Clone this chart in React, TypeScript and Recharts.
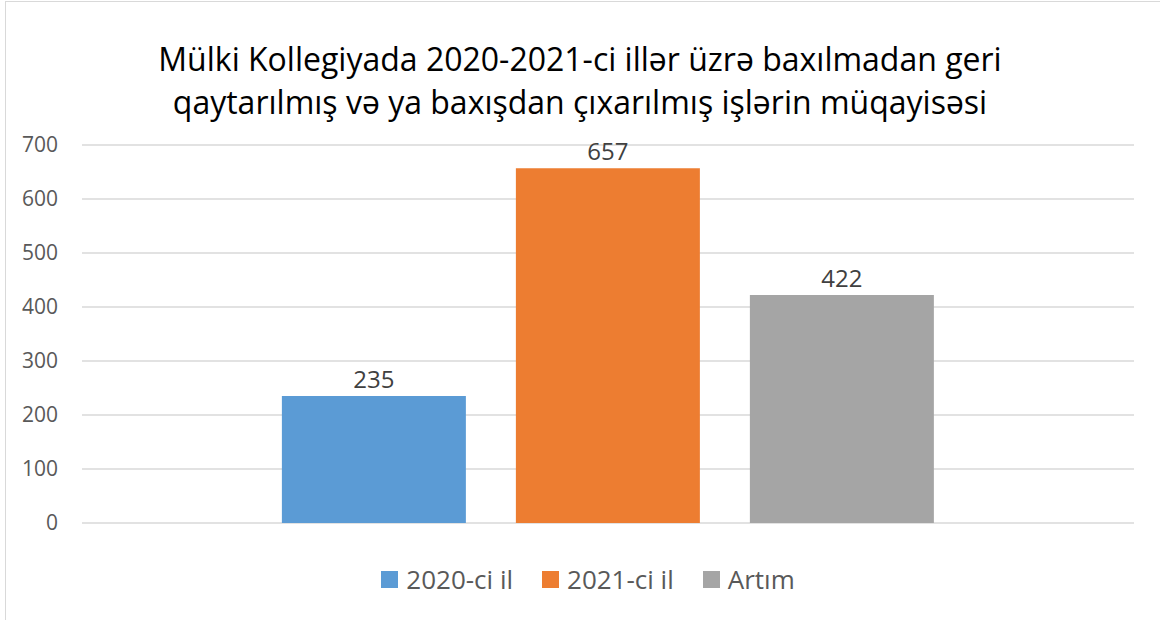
import { Bar, BarChart, CartesianGrid, LabelList, Legend, XAxis, YAxis } from "recharts";

const categories = ["Müqayisə"];
const series2020 = [235];
const series2021 = [657];
const seriesArtim = [422];
const yTicks = [0, 100, 200, 300, 400, 500, 600, 700];
const seriesNames = ["2020-ci il", "2021-ci il", "Artım"];
const seriesColors = ["#5B9BD5", "#ED7D31", "#A5A5A5"];
const titleLines = [
  "Mülki Kollegiyada 2020-2021-ci illər üzrə baxılmadan geri",
  "qaytarılmış və ya baxışdan çıxarılmış işlərin müqayisəsi",
];

const data = categories.map((name, i) => ({
  name,
  s0: series2020[i],
  s1: series2021[i],
  s2: seriesArtim[i],
}));

const FONT = "'Open Sans', 'Noto Sans', sans-serif";

function LegendContent() {
  return (
    <div
      style={{
        display: "flex",
        justifyContent: "center",
        gap: 29,
        fontFamily: FONT,
        fontSize: 26,
        lineHeight: "30px",
        color: "#595959",
      }}
    >
      {seriesNames.map((n, i) => (
        <div key={n} style={{ display: "flex", alignItems: "center" }}>
          <span
            style={{
              width: 17,
              height: 17,
              background: seriesColors[i],
              marginRight: 8,
              display: "inline-block",
            }}
          />
          <span>{n}</span>
        </div>
      ))}
    </div>
  );
}

export default function App() {
  return (
    <div
      style={{
        position: "absolute",
        left: 0,
        top: 0,
        width: 1160,
        height: 620,
        background: "#fff",
        overflow: "hidden",
      }}
    >
      <div
        style={{
          position: "absolute",
          left: 5,
          top: 1,
          width: 1170,
          height: 640,
          border: "1.5px solid #d9d9d9",
        }}
      />
      <div
        style={{
          position: "absolute",
          left: 0,
          top: 37,
          width: 1160,
          textAlign: "center",
          fontFamily: FONT,
          fontSize: 32,
          lineHeight: "43px",
          color: "#000",
        }}
      >
        {titleLines.map((l) => (
          <div key={l}>{l}</div>
        ))}
      </div>
      <div style={{ position: "absolute", left: 0, top: 0 }}>
        <BarChart
          width={1160}
          height={620}
          data={data}
          margin={{ top: 145, right: 26, bottom: 67, left: 12 }}
          barCategoryGap="19%"
          barGap={50}
        >
          <CartesianGrid vertical={false} stroke="#d9d9d9" strokeWidth={1.5} />
          <XAxis dataKey="name" hide />
          <YAxis
            domain={[0, 700]}
            ticks={yTicks}
            width={70}
            axisLine={false}
            tickLine={false}
            tick={{ fill: "#595959", fontSize: 21, fontFamily: FONT }}
            tickMargin={18}
          />
          <Legend
            verticalAlign="bottom"
            content={<LegendContent />}
            wrapperStyle={{ position: "absolute", top: 564, left: 8, width: 1160, bottom: "auto" }}
          />
          {["s0", "s1", "s2"].map((k, i) => (
            <Bar key={k} dataKey={k} name={seriesNames[i]} fill={seriesColors[i]} isAnimationActive={false}>
              <LabelList
                dataKey={k}
                position="top"
                offset={8}
                fill="#404040"
                fontSize={24}
                fontFamily={FONT}
              />
            </Bar>
          ))}
        </BarChart>
      </div>
    </div>
  );
}
